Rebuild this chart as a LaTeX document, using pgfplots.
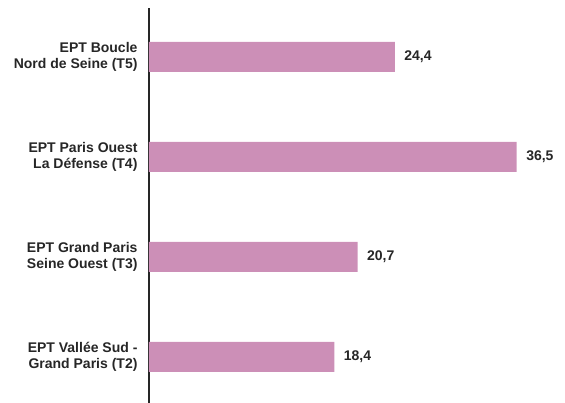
\documentclass[border=0pt]{standalone}
\usepackage{fontspec}
\setmainfont{Liberation Sans}
\usepackage{pgfplots}
\pgfplotsset{compat=1.18}
\definecolor{barpink}{HTML}{CC8FB7}
\definecolor{txt}{HTML}{262626}
\begin{document}
\begin{tikzpicture}
\begin{axis}[
  scale only axis,
  width=403pt, height=395pt,
  xbar,
  xmin=0, xmax=40,
  ymin=-0.46, ymax=3.49,
  bar width=0.3,
  axis x line=none,
  axis y line*=left,
  y axis line style={-, line width=1.6pt, color=txt},
  ytick={0,1,2,3},
  yticklabels={{EPT Vallée Sud -\\Grand Paris (T2)},{EPT Grand Paris\\Seine Ouest (T3)},{EPT Paris Ouest\\La Défense (T4)},{EPT Boucle\\Nord de Seine (T5)}},
  major tick length=0pt,
  yticklabel style={align=right, font=\fontsize{14}{15.5}\selectfont\bfseries, text=txt, xshift=-8pt},
  point meta=explicit symbolic,
  nodes near coords,
  nodes near coords style={font=\fontsize{14}{15.5}\selectfont\bfseries, text=txt, anchor=west, xshift=6pt},
]
\addplot[fill=barpink, draw=none] coordinates {
  (18.4,0) [18,4]
  (20.7,1) [20,7]
  (36.5,2) [36,5]
  (24.4,3) [24,4]
};
\coordinate (bl) at (rel axis cs:0,0);
\end{axis}
\pgfresetboundingbox
\path ([shift={(-149pt,0pt)}]bl) rectangle ([shift={(416pt,403pt)}]bl);
\end{tikzpicture}
\end{document}
